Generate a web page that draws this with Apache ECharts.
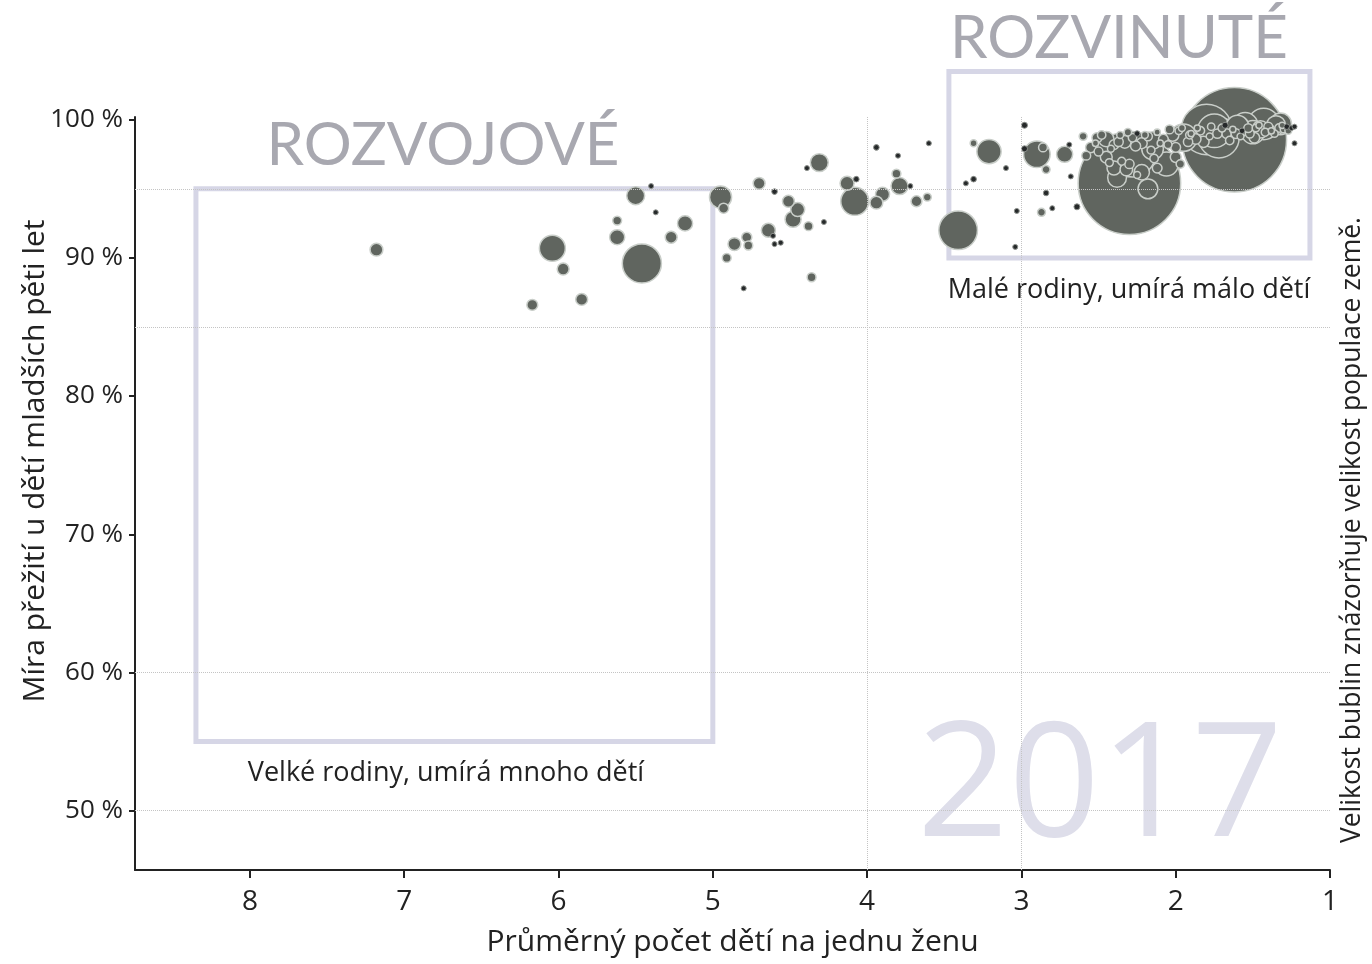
<!DOCTYPE html>
<html>
<head>
<meta charset="utf-8">
<title>Míra přežití dětí 2017</title>
<script src="https://cdn.jsdelivr.net/npm/echarts@6/dist/echarts.min.js"></script>
<style>
  html, body { margin: 0; padding: 0; background: #fff; }
  #main { width: 1372px; height: 964px; }
</style>
</head>
<body>
<div id="main"></div>
<script>
// průměrný počet dětí na ženu (x), přežití do 5 let v % (y), populace v mil. (velikost bubliny)
var fertility = [
    7.18, 5.50, 5.40, 5.37, 5.62, 5.18, 5.62, 5.27, 6.04, 5.46, 5.97, 6.17, 5.85,
    4.95, 4.93, 4.70, 4.60, 4.51, 4.45, 4.48, 4.39, 4.31, 4.64, 4.61, 4.60, 4.56,
    4.78, 4.86, 4.77, 4.91, 4.38, 4.28, 4.36, 4.80, 4.13, 4.07, 4.08, 3.94, 3.90,
    3.94, 3.80, 3.81, 3.79, 3.72, 3.68, 3.61, 3.60,
    3.41, 3.21, 3.31, 3.10, 3.36, 3.31, 3.03, 3.04, 2.98, 2.90, 2.86, 2.98, 2.84,
    2.84, 2.87, 2.80, 2.72, 2.69, 2.68, 2.64, 2.60, 2.51, 2.30, 1.62,
    2.45, 2.40, 2.36, 2.33, 2.28, 2.25, 2.22, 2.18, 2.15, 2.12, 2.08, 2.05, 2.02,
    1.98, 1.95, 1.92, 1.90, 1.87, 1.84, 1.80, 1.78, 1.75, 1.72, 1.70, 1.67, 1.63,
    1.60, 1.57, 1.55, 1.52, 1.50, 1.48, 1.45, 1.43, 1.40, 1.38, 1.35, 1.33, 1.32,
    1.30, 1.28, 1.25, 1.23, 1.23,
    2.50, 2.45, 2.40, 2.35, 2.28, 2.22, 2.18, 2.38, 2.15, 2.06, 2.00, 1.97, 2.12,
    2.25, 2.32, 2.55, 2.58,
    2.48, 2.42, 2.37, 2.31, 2.26, 2.20, 2.16, 2.10, 2.04, 2.00, 1.96, 1.91, 1.86,
    1.82, 1.77, 1.73, 1.68, 1.65, 1.61, 1.58, 1.53, 1.49, 1.46, 1.42, 1.39, 1.36,
    1.31, 1.27, 2.52, 2.43, 2.30, 2.14
];
var survival = [
    90.6, 94.5, 95.2, 93.3, 92.7, 92.5, 91.5, 91.5, 90.7, 89.6, 89.2, 86.6, 87.0,
    94.4, 93.6, 95.4, 94.8, 94.1, 93.5, 92.8, 96.5, 96.9, 92.0, 91.6, 91.0, 91.1,
    91.5, 91.0, 90.9, 90.0, 92.3, 92.6, 88.6, 87.8, 95.4, 95.7, 94.1, 94.0, 94.6,
    98.0, 97.4, 96.1, 95.2, 95.2, 94.1, 94.4, 98.3,
    92.0, 97.7, 98.3, 96.5, 95.4, 95.7, 93.4, 90.8, 99.6, 97.5, 98.0, 97.9, 96.4,
    94.7, 93.3, 93.6, 97.5, 98.2, 95.9, 93.7, 98.8, 98.7, 95.4, 98.55,
    98.6, 98.2, 98.9, 98.4, 98.7, 99.0, 98.3, 98.8, 98.5, 99.1, 98.6, 98.2, 98.9,
    99.2, 98.7, 98.4, 99.0, 98.6, 99.2, 99.3, 98.8, 99.2, 98.7, 99.4, 99.0, 99.3,
    99.5, 99.2, 99.6, 99.0, 99.1, 99.4, 99.3, 99.7, 99.5, 99.2, 99.6, 99.4, 99.7,
    99.3, 99.5, 99.4, 99.5, 98.3,
    97.7, 97.3, 96.5, 97.0, 97.5, 96.2, 95.0, 95.8, 97.9, 96.8, 97.3, 96.8, 96.5,
    96.0, 96.4, 98.0, 97.4,
    98.9, 97.9, 98.4, 99.1, 98.1, 98.9, 97.8, 98.3, 99.3, 98.0, 99.4, 98.9, 99.4,
    98.4, 99.5, 99.0, 99.6, 98.5, 99.0, 98.8, 99.4, 98.7, 99.6, 99.1, 99.3, 99.0,
    99.6, 99.2, 98.3, 96.9, 96.8, 97.2
];
var population = [
    21, 41, 1.5, 2.5, 10, 29, 29, 18, 86, 195, 18, 15, 18,
    62, 13, 18, 4, 18, 25, 33, 2, 41, 25, 3, 3, 3,
    13, 21, 10, 10, 10, 2, 10, 2, 25, 4, 100, 21, 25,
    4, 2, 10, 37, 3, 15, 8, 2,
    190, 75, 6, 2, 2, 4, 2, 2, 4.6, 90, 10, 4.6, 8,
    4, 8, 2, 33, 3, 2, 4.6, 8, 13, 1340, 1390,
    30, 12, 6, 20, 9, 4, 15, 10, 40, 5, 12, 8, 20,
    7, 95, 11, 5, 14, 9, 325, 6, 144, 209, 8, 12, 5,
    66, 4, 82, 10, 69, 7, 38, 127, 10, 5, 47, 9, 60,
    6, 4, 3, 2, 2,
    10, 18, 25, 8, 264, 30, 50, 45, 60, 73, 15, 9, 12,
    6, 20, 14, 10,
    9, 6, 11, 7, 13, 6, 8, 5, 10, 12, 6, 8, 5,
    16, 7, 11, 4.8, 9, 12, 6, 10, 14, 5, 8, 11, 7,
    5, 6, 5, 8, 11, 9
];

var xTicks = [1, 2, 3, 4, 5, 6, 7, 8];
var yTicks = [50, 60, 70, 80, 90, 100];
var gridLinesY = [95, 85, 60, 50];
var gridLinesX = [4, 3];
// rámečky: [x od, x do, y od, y do]
var boxDeveloping = [5, 8.35, 55, 95];
var boxDeveloped = [1.13, 3.47, 90, 103.5];

var FONT = '"Open Sans", Lato, sans-serif';

// velké bubliny kreslit první, malé navrch
var order = population.map(function (p, i) { return i; });
order.sort(function (a, b) { return population[b] - population[a]; });

var bubbles = order.map(function (i) {
    var item = {value: [fertility[i], survival[i], population[i]]};
    if (population[i] < 5) {
        item.itemStyle = {color: '#26292a', borderColor: '#8d918d', borderWidth: 1};
    }
    return item;
});

var markLines = [];
gridLinesY.forEach(function (v) { markLines.push({yAxis: v}); });
gridLinesX.forEach(function (v) { markLines.push({xAxis: v}); });

var myChart = echarts.init(document.getElementById('main'));
myChart.setOption({
    backgroundColor: '#fff',
    animation: false,
    grid: {left: 135, right: 42, top: 117, bottom: 94},
    xAxis: {
        type: 'value',
        inverse: true,
        min: 1,
        max: 8.745,
        name: 'Průměrný počet dětí na jednu ženu',
        nameLocation: 'middle',
        nameGap: 57,
        nameTextStyle: {fontFamily: FONT, fontSize: 30, color: '#222'},
        axisLine: {lineStyle: {color: '#222', width: 2}},
        axisTick: {customValues: xTicks, length: 8, lineStyle: {color: '#222', width: 2}},
        axisLabel: {customValues: xTicks, margin: 18, fontFamily: FONT, fontSize: 28, color: '#222'},
        splitLine: {show: false}
    },
    yAxis: {
        type: 'value',
        min: 45.7,
        max: 100.2,
        axisLine: {show: true, lineStyle: {color: '#222', width: 2}},
        axisTick: {customValues: yTicks, length: 6, lineStyle: {color: '#222', width: 2}},
        axisLabel: {
            customValues: yTicks, margin: 12, fontFamily: FONT, fontSize: 26, color: '#222',
            formatter: '{value} %'
        },
        splitLine: {show: false}
    },
    series: [
        {
            type: 'scatter',
            data: [],
            z: 1,
            silent: true,
            markLine: {
                silent: true,
                symbol: 'none',
                label: {show: false},
                lineStyle: {color: '#c4c4c4', type: 'dotted', width: 1},
                data: markLines
            }
        },
        {
            type: 'scatter',
            z: 3,
            data: bubbles,
            symbolSize: function (val) {
                return Math.max(5, 2.8 * Math.sqrt(val[2]));
            },
            itemStyle: {color: '#60655f', borderColor: '#c9cec9', borderWidth: 1.5, opacity: 1}
        }
    ]
});

function boxRect(b) {
    var p1 = myChart.convertToPixel({gridIndex: 0}, [b[1], b[3]]);
    var p2 = myChart.convertToPixel({gridIndex: 0}, [b[0], b[2]]);
    var x = Math.min(p1[0], p2[0]), y = Math.min(p1[1], p2[1]);
    return {
        type: 'rect', z: 1, silent: true,
        shape: {x: x, y: y, width: Math.abs(p2[0] - p1[0]), height: Math.abs(p2[1] - p1[1])},
        style: {fill: 'none', stroke: '#d6d6e6', lineWidth: 5}
    };
}

function txt(x, y, text, size, color, extra, family) {
    var el = {
        type: 'text', x: x, y: y, z: 1, silent: true,
        style: {
            text: text, fontFamily: family || FONT, fontSize: size, fill: color,
            align: 'center', verticalAlign: 'middle'
        }
    };
    if (extra) {
        for (var k in extra) el[k] = extra[k];
    }
    return el;
}

myChart.setOption({
    graphic: [
        txt(1100, 790, '2017', 160, '#dedeea', {z: 0}),
        boxRect(boxDeveloping),
        boxRect(boxDeveloped),
        txt(443, 146, 'ROZVOJOVÉ', 60, '#a8a8b0', null, 'Lato, sans-serif'),
        txt(1119, 39, 'ROZVINUTÉ', 60, '#a8a8b0', null, 'Lato, sans-serif'),
        txt(446, 773, 'Velké rodiny, umírá mnoho dětí', 27, '#222'),
        txt(1129, 290, 'Malé rodiny, umírá málo dětí', 27, '#222'),
        txt(35, 461, 'Míra přežití u dětí mladších pěti let', 30, '#222', {rotation: Math.PI / 2}),
        txt(1352, 530, 'Velikost bublin znázorňuje velikost populace země.', 26.5, '#222', {rotation: Math.PI / 2})
    ]
});
</script>
</body>
</html>
